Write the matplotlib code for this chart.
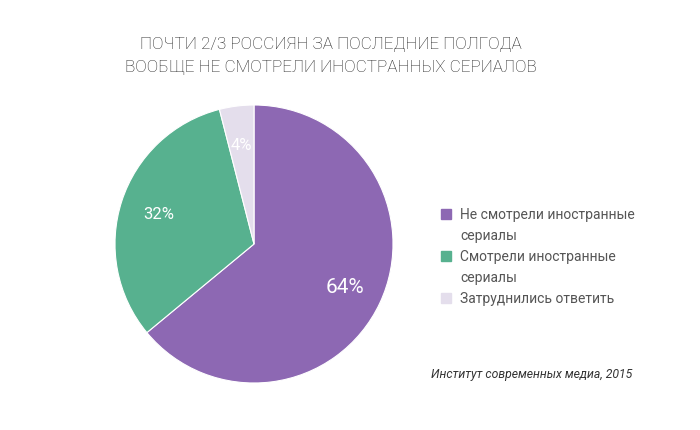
import matplotlib.pyplot as plt
from matplotlib.patches import Rectangle

plt.rcParams['font.family'] = ['Roboto', 'DejaVu Sans']

# данные
labels = ['Не смотрели иностранные\nсериалы', 'Смотрели иностранные\nсериалы', 'Затруднились ответить']
values = [64, 32, 4]
colors = ['#8d68b3', '#57b18f', '#e4deec']
pct_sizes = [15, 12, 12]
title = 'ПОЧТИ 2/3 РОССИЯН ЗА ПОСЛЕДНИЕ ПОЛГОДА\nВООБЩЕ НЕ СМОТРЕЛИ ИНОСТРАННЫХ СЕРИАЛОВ'
source = 'Институт современных медиа, 2015'

W, H = 700, 431
fig = plt.figure(figsize=(W / 100, H / 100), dpi=100)
fig.patch.set_facecolor('white')

# круговая диаграмма
cx, cy, r = 254, 245, 139
ax = fig.add_axes([(cx - r) / W, (H - cy - r) / H, 2 * r / W, 2 * r / H])
wedges, texts, autotexts = ax.pie(values, colors=colors, startangle=90, counterclock=False,
                                  autopct='%d%%', pctdistance=0.72,
                                  wedgeprops=dict(linewidth=0.8, edgecolor='white'))
for t, s in zip(autotexts, pct_sizes):
    t.set_color('white')
    t.set_fontsize(s)
ax.set_xlim(-1, 1)
ax.set_ylim(-1, 1)
ax.set_aspect('equal')
ax.axis('off')

# заголовок
fig.text(331 / W, 1 - 56 / H, title, ha='center', va='center', fontsize=12.3,
         fontweight='light', color='#222222', linespacing=1.7)

# легенда
y = 215
for lab, col in zip(labels, colors):
    fig.patches.append(Rectangle((441 / W, 1 - (y + 5) / H), 10 / W, 10 / H,
                                 transform=fig.transFigure, color=col))
    fig.text(460 / W, 1 - (y - 7) / H, lab, ha='left', va='top', fontsize=10,
             color='#555555', linespacing=1.6)
    y += 21 * (lab.count('\n') + 1)

# источник
fig.text(632 / W, 1 - 375 / H, source, ha='right', va='center', fontsize=8.8,
         style='italic', color='#333333')

fig.savefig('out.png', dpi=100, facecolor='white')
